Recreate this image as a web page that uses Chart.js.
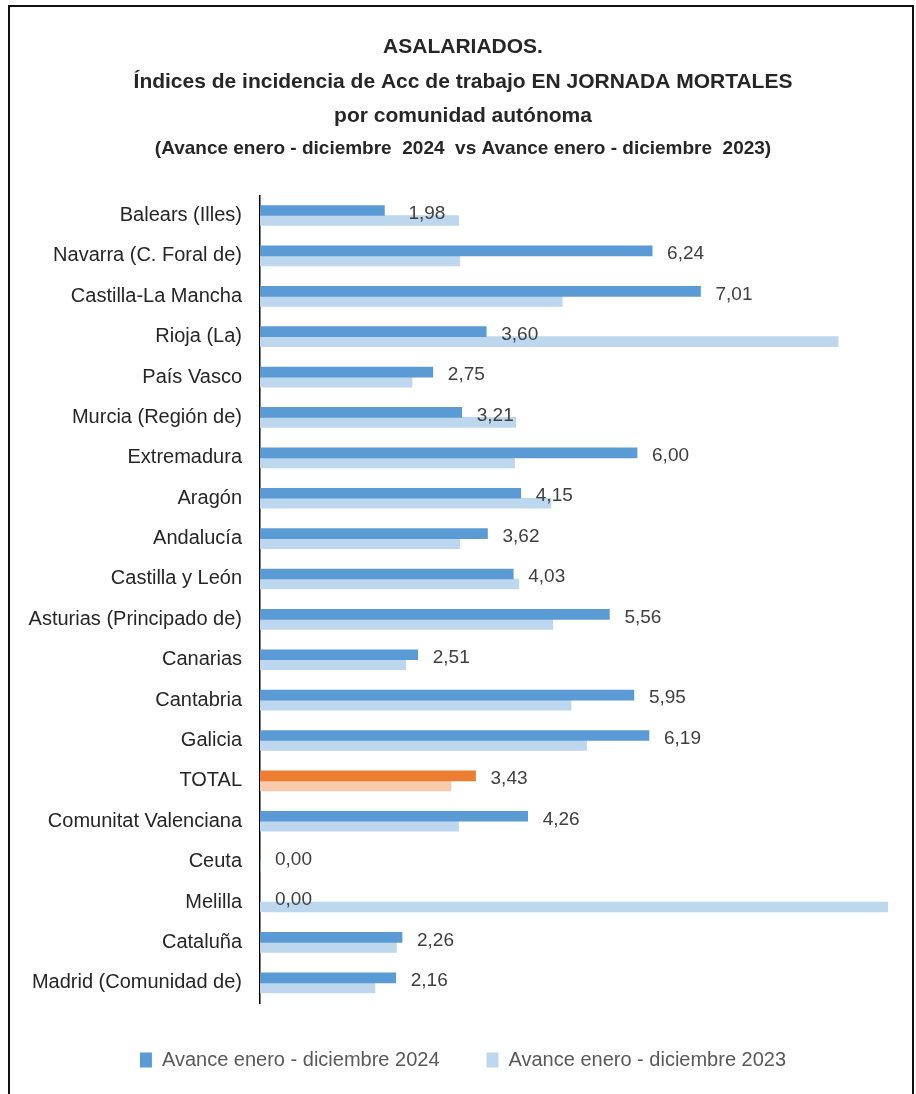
<!DOCTYPE html>
<html>
<head>
<meta charset="utf-8">
<script src="https://cdn.jsdelivr.net/npm/chart.js@4.4.1/dist/chart.umd.min.js"></script>
<style>
  html, body { margin: 0; padding: 0; background: #fff; }
  #wrap { position: relative; width: 916px; height: 1094px; }
  #frame { position: absolute; left: 8px; top: 5px; width: 906px; height: 1100px;
           border: 2px solid #111; box-sizing: border-box; pointer-events: none; }
</style>
</head>
<body>
<div id="wrap">
  <canvas id="chart" width="916" height="1094"></canvas>
  <div id="frame"></div>
</div>
<script>
var regions = [
  "Balears (Illes)", "Navarra (C. Foral de)", "Castilla-La Mancha", "Rioja (La)",
  "País Vasco", "Murcia (Región de)", "Extremadura", "Aragón", "Andalucía",
  "Castilla y León", "Asturias (Principado de)", "Canarias", "Cantabria", "Galicia",
  "TOTAL", "Comunitat Valenciana", "Ceuta", "Melilla", "Cataluña", "Madrid (Comunidad de)"
];
var values2024 = [1.98, 6.24, 7.01, 3.60, 2.75, 3.21, 6.00, 4.15, 3.62, 4.03,
                  5.56, 2.51, 5.95, 6.19, 3.43, 4.26, 0.00, 0.00, 2.26, 2.16];
var values2023 = [3.16, 3.18, 4.81, 9.20, 2.42, 4.07, 4.05, 4.63, 3.18, 4.12,
                  4.66, 2.32, 4.95, 5.20, 3.04, 3.16, 0.00, 9.99, 2.17, 1.83];
var series2024 = "Avance enero - diciembre 2024";
var series2023 = "Avance enero - diciembre 2023";

var FONT = "'Liberation Sans', Arial, sans-serif";

// colores: TOTAL en naranja
var colors2024 = regions.map(r => r === "TOTAL" ? "#ED7D31" : "#5B9BD5");
var colors2023 = regions.map(r => r === "TOTAL" ? "#F8CBAD" : "#BDD7EE");

// etiquetas de valor para la serie 2024
var valueLabels = {
  id: "valueLabels",
  afterDatasetsDraw(chart) {
    var ctx = chart.ctx;
    var meta = chart.getDatasetMeta(0);
    ctx.save();
    ctx.font = "19px " + FONT;
    ctx.fillStyle = "#404040";
    ctx.textAlign = "left";
    ctx.textBaseline = "middle";
    meta.data.forEach(function(bar, i) {
      var txt = values2024[i].toFixed(2).replace(".", ",");
      var gap = i === 0 ? 24 : 15;
      ctx.fillText(txt, bar.x + gap, bar.y + 3);
    });
    ctx.restore();
  }
};

new Chart(document.getElementById("chart"), {
  type: "bar",
  data: {
    labels: regions,
    datasets: [
      { label: series2024, data: values2024, backgroundColor: colors2024, barThickness: 10 },
      { label: series2023, data: values2023, backgroundColor: colors2023, barThickness: 10 }
    ]
  },
  options: {
    indexAxis: "y",
    responsive: false,
    animation: false,
    layout: { padding: { left: 20, right: 10, top: 0, bottom: 14 } },
    scales: {
      x: { display: false, min: 0, max: 10.28 },
      y: {
        grid: { drawOnChartArea: false, drawTicks: false },
        border: { display: true, color: "#000", width: 1.5 },
        ticks: { font: { family: FONT, size: 20 }, color: "#262626", padding: 18, autoSkip: false },
        afterFit: function(scale) { scale.width = 240; }
      }
    },
    plugins: {
      title: {
        display: true,
        text: ["ASALARIADOS.", "Índices de incidencia de Acc de trabajo EN JORNADA MORTALES", "por comunidad autónoma"],
        font: { family: FONT, size: 21, weight: "bold", lineHeight: 1.65 },
        color: "#262626",
        padding: { top: 30, bottom: 0 }
      },
      subtitle: {
        display: true,
        text: "(Avance enero - diciembre  2024  vs Avance enero - diciembre  2023)",
        font: { family: FONT, size: 19, weight: "bold", lineHeight: 1.6 },
        color: "#262626",
        padding: { top: 0, bottom: 31 }
      },
      legend: {
        position: "bottom",
        labels: {
          font: { family: FONT, size: 20 },
          color: "#595959",
          boxWidth: 12,
          boxHeight: 15,
          padding: 47,
          generateLabels: function(chart) {
            return chart.data.datasets.map(function(ds, i) {
              return { text: ds.label, fillStyle: i === 0 ? "#5B9BD5" : "#BDD7EE",
                       strokeStyle: "transparent", lineWidth: 0, datasetIndex: i, fontColor: "#595959" };
            });
          }
        }
      },
      tooltip: { enabled: false }
    }
  },
  plugins: [valueLabels]
});
</script>
</body>
</html>
